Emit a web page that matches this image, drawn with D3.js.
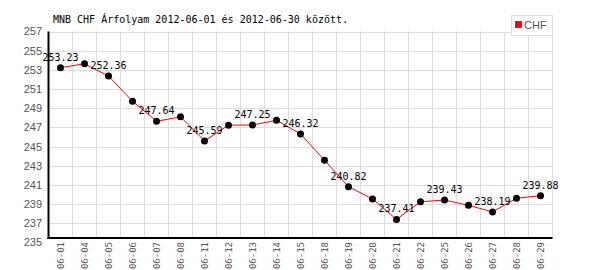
<!DOCTYPE html>
<html><head><meta charset="utf-8">
<script src="https://cdn.jsdelivr.net/npm/d3@7"></script>
<style>body{margin:0;background:#fff}</style>
</head><body>
<svg id="c" width="600" height="270"></svg>
<script>
const categories = ["06-01","06-04","06-05","06-06","06-07","06-08","06-11","06-12","06-13","06-14","06-15","06-18","06-19","06-20","06-21","06-22","06-25","06-26","06-27","06-28","06-29"];
const values = [253.23,253.63,252.36,249.73,247.64,248.10,245.59,247.23,247.25,247.75,246.32,243.58,240.82,239.54,237.41,239.25,239.43,238.88,238.19,239.61,239.88];
const yTicks = [235,237,239,241,243,245,247,249,251,253,255,257];
const seriesName = "CHF";
const title = "MNB CHF Árfolyam 2012-06-01 és 2012-06-30 között.";

(function () {
const svg = d3.select("#c");
const pLeft = 48.5, pRight = 552.5, pTop = 31.5, pBottom = 238, y235 = 242.5;
const x = d3.scaleBand().domain(categories).range([pLeft, pRight]);
const y = d3.scaleLinear().domain([235, 257]).range([y235, pTop]);
const pts = values.map((v, i) => ({ v, i, c: categories[i] }));

// grid
const g = svg.append("g");
g.selectAll(".hg").data(yTicks.filter(t => y(t) <= pBottom)).enter().append("line")
  .attr("x1", pLeft).attr("x2", pRight).attr("y1", d => Math.round(y(d)) + 0.5).attr("y2", d => Math.round(y(d)) + 0.5)
  .attr("stroke", "#dddddd").attr("stroke-width", 1);
g.selectAll(".vg").data(categories).enter().append("line")
  .attr("x1", d => x(d) + x.bandwidth()).attr("x2", d => x(d) + x.bandwidth())
  .attr("y1", pTop).attr("y2", pBottom)
  .attr("stroke", "#dddddd").attr("stroke-width", 1);

// y labels
svg.append("g").selectAll("text").data(yTicks).enter().append("text")
  .attr("x", 42).attr("y", d => y(d)).attr("dy", "0.36em")
  .attr("text-anchor", "end").attr("font-family", "Liberation Sans, Arial, sans-serif")
  .attr("font-size", 11).attr("fill", "#555").text(d => d);

// axes lines
svg.append("line").attr("x1", pLeft).attr("x2", pLeft).attr("y1", pTop).attr("y2", pBottom + 1)
  .attr("stroke", "#000").attr("stroke-width", 2);
svg.append("line").attr("x1", pLeft - 1).attr("x2", pRight).attr("y1", pBottom).attr("y2", pBottom)
  .attr("stroke", "#000").attr("stroke-width", 2);

// x labels
svg.append("g").selectAll("text").data(categories).enter().append("text")
  .attr("transform", d => `translate(${x(d) + x.bandwidth() / 2 + 3.5},${pBottom + 4}) rotate(-90)`)
  .attr("text-anchor", "end").attr("font-family", "DejaVu Sans Mono, monospace")
  .attr("font-size", 9).attr("fill", "#555").text(d => d);

// line
const cx = d => x(d.c) + x.bandwidth() / 2;
svg.append("path").datum(pts)
  .attr("d", d3.line().x(cx).y(d => y(d.v)))
  .attr("fill", "none").attr("stroke", "#ff0000").attr("stroke-width", 1);

svg.append("g").selectAll("circle").data(pts).enter().append("circle")
  .attr("cx", cx).attr("cy", d => y(d.v)).attr("r", 3.5).attr("fill", "#000");

// value labels (every other)
svg.append("g").selectAll("text").data(pts.filter(d => d.i % 2 === 0)).enter().append("text")
  .attr("x", cx).attr("y", d => y(d.v) - 7)
  .attr("text-anchor", "middle").attr("font-family", "DejaVu Sans Mono, monospace")
  .attr("font-size", 10).attr("fill", "#000").text(d => d.v.toFixed(2));

// title
svg.append("text").attr("x", 53).attr("y", 23).attr("font-family", "DejaVu Sans Mono, monospace")
  .attr("font-size", 10).attr("fill", "#000").text(title);

// legend
const lg = svg.append("g");
lg.append("rect").attr("x", 511.5).attr("y", 15.5).attr("width", 41).attr("height", 20)
  .attr("fill", "#fff").attr("stroke", "#dddddd");
lg.append("rect").attr("x", 515.5).attr("y", 21.5).attr("width", 6).attr("height", 6)
  .attr("fill", "#ff0000").attr("stroke", "#555");
lg.append("text").attr("x", 524).attr("y", 29).attr("font-family", "Liberation Sans, Arial, sans-serif")
  .attr("font-size", 11).attr("fill", "#555").text(seriesName);
})();
</script>
</body></html>
